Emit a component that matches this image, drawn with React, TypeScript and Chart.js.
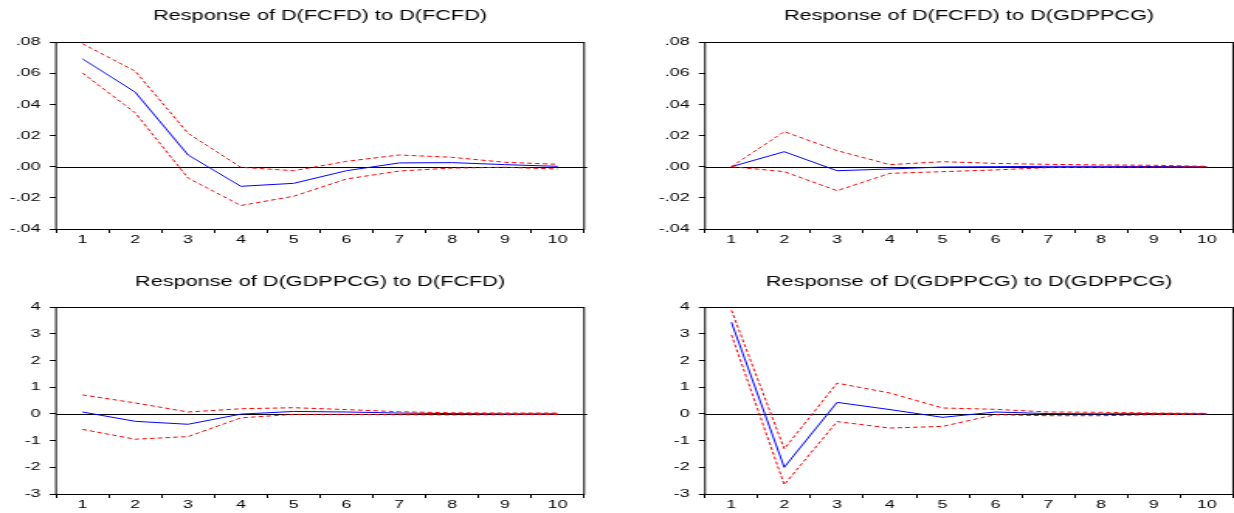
import React, { useEffect, useRef } from 'react';
import { Chart, registerables } from 'chart.js';

Chart.register(...registerables);

// ---------- data ----------
const periods = ['1', '2', '3', '4', '5', '6', '7', '8', '9', '10'];

const titles = [
  'Response of D(FCFD) to D(FCFD)',
  'Response of D(FCFD) to D(GDPPCG)',
  'Response of D(GDPPCG) to D(FCFD)',
  'Response of D(GDPPCG) to D(GDPPCG)',
];

// Response of D(FCFD) to D(FCFD)
const fcfdFcfd = [0.0692, 0.0478, 0.0075, -0.0126, -0.0107, -0.0026, 0.0024, 0.0026, 0.0013, 0.0002];
const fcfdFcfdUpper = [0.0789, 0.0613, 0.0214, -0.0004, -0.0026, 0.0034, 0.0075, 0.006, 0.0028, 0.0015];
const fcfdFcfdLower = [0.0602, 0.0345, -0.0073, -0.0249, -0.019, -0.0079, -0.0028, -0.0009, -0.0004, -0.0015];

// Response of D(FCFD) to D(GDPPCG)
const fcfdGdp = [0, 0.0096, -0.0026, -0.0015, -0.0002, 0, 0.0002, 0.0002, 0.0001, 0];
const fcfdGdpUpper = [0, 0.0225, 0.0103, 0.0013, 0.0032, 0.0021, 0.0015, 0.0011, 0.0009, 0.0002];
const fcfdGdpLower = [0, -0.0032, -0.0154, -0.0043, -0.0032, -0.0021, -0.0006, -0.0004, -0.0002, -0.0002];

// Response of D(GDPPCG) to D(FCFD)
const gdpFcfd = [0.07, -0.28, -0.39, -0.01, 0.09, 0.07, 0.03, 0.01, 0, 0];
const gdpFcfdUpper = [0.71, 0.41, 0.07, 0.19, 0.23, 0.16, 0.08, 0.04, 0.03, 0.03];
const gdpFcfdLower = [-0.58, -0.95, -0.85, -0.15, -0.02, -0.02, -0.03, -0.04, -0.03, -0.02];

// Response of D(GDPPCG) to D(GDPPCG)
const gdpGdp = [3.43, -2.0, 0.43, 0.16, -0.13, 0.07, 0.01, 0, 0.01, 0];
const gdpGdpUpper = [3.88, -1.31, 1.15, 0.78, 0.22, 0.17, 0.07, 0.06, 0.03, 0.02];
const gdpGdpLower = [2.96, -2.65, -0.29, -0.53, -0.47, -0.03, -0.07, -0.07, -0.03, -0.01];

// tick labels (ascending)
const smallTickLabels = ['-.04', '-.02', '.00', '.02', '.04', '.06', '.08'];
const largeTickLabels = ['-3', '-2', '-1', '0', '1', '2', '3', '4'];

// ---------- layout ----------
const STRETCH = 1.55;
const FONT = '"Liberation Sans", Arial, Helvetica, sans-serif';

const framePlugin = {
  id: 'frame',
  beforeDatasetsDraw(chart: any) {
    const { ctx, chartArea: a, scales } = chart;
    const y0 = Math.round(scales.y.getPixelForValue(0)) + 0.5;
    ctx.save();
    ctx.strokeStyle = '#000';
    ctx.lineWidth = 1;
    ctx.beginPath();
    ctx.moveTo(a.left, y0);
    ctx.lineTo(a.right + 2, y0);
    ctx.stroke();
    ctx.restore();
  },
  afterDraw(chart: any) {
    const { ctx, chartArea: a } = chart;
    ctx.save();
    ctx.strokeStyle = '#000';
    ctx.lineWidth = 1;
    ctx.strokeRect(a.left, Math.round(a.top) + 0.5, a.right - a.left, Math.round(a.bottom) - Math.round(a.top));
    ctx.restore();
  },
};

type PanelProps = {
  title: string;
  center: number[];
  upper: number[];
  lower: number[];
  yMin: number;
  yMax: number;
  step: number;
  tickLabels: string[];
  left: number;
  top: number;
  height: number;
  yAxisWidth: number;
  padRight: number;
  titlePadTop: number;
  titlePadBottom: number;
  xAxisHeight: number;
};

const INTERNAL_W = 398;

function Panel(p: PanelProps) {
  const ref = useRef<HTMLCanvasElement | null>(null);
  useEffect(() => {
    if (!ref.current) return;
    const chart = new Chart(ref.current, {
      type: 'line',
      data: {
        labels: periods,
        datasets: [
          {
            data: p.upper,
            borderColor: '#ff0000',
            borderWidth: 1,
            borderDash: [3, 2],
            pointRadius: 0,
            tension: 0,
            fill: false,
          },
          {
            data: p.lower,
            borderColor: '#ff0000',
            borderWidth: 1,
            borderDash: [3, 2],
            pointRadius: 0,
            tension: 0,
            fill: false,
          },
          {
            data: p.center,
            borderColor: '#0000ff',
            borderWidth: 1,
            pointRadius: 0,
            tension: 0,
            fill: false,
          },
        ],
      },
      options: {
        responsive: false,
        animation: false,
        devicePixelRatio: 1,
        events: [],
        layout: { padding: { left: 0, right: p.padRight, top: 0, bottom: 0 } },
        plugins: {
          legend: { display: false },
          tooltip: { enabled: false },
          title: {
            display: true,
            text: p.title,
            fullSize: false,
            color: '#000',
            font: { family: FONT, size: 14, weight: 'normal', lineHeight: '16px' },
            padding: { top: p.titlePadTop, bottom: p.titlePadBottom },
          },
        },
        scales: {
          x: {
            type: 'category',
            offset: true,
            border: { display: false },
            grid: {
              offset: true,
              drawOnChartArea: false,
              drawTicks: true,
              tickLength: 4,
              tickColor: '#000',
              color: '#000',
            },
            ticks: {
              color: '#000',
              padding: 0,
              maxRotation: 0,
              autoSkip: false,
              font: { family: FONT, size: 11.5 },
            },
            afterFit: (s: any) => {
              s.height = p.xAxisHeight;
            },
          },
          y: {
            min: p.yMin,
            max: p.yMax,
            border: { display: false },
            grid: {
              drawOnChartArea: false,
              drawTicks: true,
              tickLength: 4,
              tickColor: '#000',
              color: '#000',
            },
            ticks: {
              stepSize: p.step,
              color: '#000',
              padding: 6,
              font: { family: FONT, size: 11.5 },
              callback: (_v: any, i: number) => p.tickLabels[i],
            },
            afterFit: (s: any) => {
              s.width = p.yAxisWidth;
            },
          },
        },
      },
      plugins: [framePlugin],
    } as any);
    return () => chart.destroy();
  }, []);

  return (
    <canvas
      ref={ref}
      width={INTERNAL_W}
      height={p.height}
      style={{
        position: 'absolute',
        display: 'block',
        left: p.left,
        top: p.top,
        width: INTERNAL_W * STRETCH,
        height: p.height,
      }}
    />
  );
}

export default function App() {
  const leftYW = 56 / STRETCH;
  const leftPadR = INTERNAL_W - 584 / STRETCH;
  const rightYW = 88 / STRETCH;
  const rightPadR = INTERNAL_W - 616 / STRETCH;

  const top = { top: 0, height: 256, titlePadTop: 8, titlePadBottom: 18, xAxisHeight: 27 };
  const bottom = { top: 256, height: 257, titlePadTop: 18, titlePadBottom: 17, xAxisHeight: 19 };

  return (
    <div
      style={{
        position: 'fixed',
        left: 0,
        top: 0,
        width: 1234,
        height: 513,
        background: '#fff',
        overflow: 'hidden',
      }}
    >
      <Panel
        title={titles[0]}
        center={fcfdFcfd}
        upper={fcfdFcfdUpper}
        lower={fcfdFcfdLower}
        yMin={-0.04}
        yMax={0.08}
        step={0.02}
        tickLabels={smallTickLabels}
        left={0}
        yAxisWidth={leftYW}
        padRight={leftPadR}
        {...top}
      />
      <Panel
        title={titles[1]}
        center={fcfdGdp}
        upper={fcfdGdpUpper}
        lower={fcfdGdpLower}
        yMin={-0.04}
        yMax={0.08}
        step={0.02}
        tickLabels={smallTickLabels}
        left={617}
        yAxisWidth={rightYW}
        padRight={rightPadR}
        {...top}
      />
      <Panel
        title={titles[2]}
        center={gdpFcfd}
        upper={gdpFcfdUpper}
        lower={gdpFcfdLower}
        yMin={-3}
        yMax={4}
        step={1}
        tickLabels={largeTickLabels}
        left={0}
        yAxisWidth={leftYW}
        padRight={leftPadR}
        {...bottom}
      />
      <Panel
        title={titles[3]}
        center={gdpGdp}
        upper={gdpGdpUpper}
        lower={gdpGdpLower}
        yMin={-3}
        yMax={4}
        step={1}
        tickLabels={largeTickLabels}
        left={617}
        yAxisWidth={rightYW}
        padRight={rightPadR}
        {...bottom}
      />
    </div>
  );
}
